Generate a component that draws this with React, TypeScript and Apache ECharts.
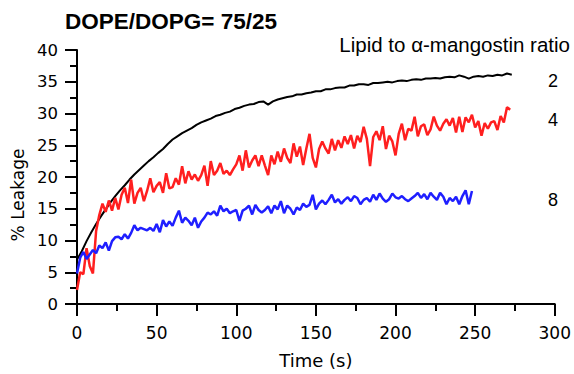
import React, { useEffect, useRef } from "react";
import * as echarts from "echarts";

const titleText = "DOPE/DOPG= 75/25";
const legendTitle = "Lipid to \u03b1-mangostin ratio";
const ratioLabels = ["2", "4", "8"];
const xTicks = [0, 50, 100, 150, 200, 250, 300];
const yTicks = [0, 5, 10, 15, 20, 25, 30, 35, 40];

// sampling interval (s) of each trace
const blackStep = 3;
const redStep = 2;
const blueStep = 2;

// ratio 2 (black)
const black = [
  7.0, 8.3, 9.9, 11.3, 12.6, 13.8, 14.9, 16.0, 17.0, 17.9, 18.7, 19.6, 20.4, 21.1, 21.8, 22.5,
  23.1, 23.8, 24.4, 25.2, 25.9, 26.4, 26.9, 27.3, 27.7, 28.2, 28.6, 28.9, 29.2, 29.6, 29.8, 30.1,
  30.3, 30.7, 30.9, 31.2, 31.4, 31.5, 31.8, 31.9, 31.4, 31.9, 32.2, 32.4, 32.6, 32.7, 33.0, 33.0,
  33.2, 33.3, 33.5, 33.5, 33.8, 33.8, 34.0, 34.1, 34.1, 34.4, 34.4, 34.6, 34.6, 34.5, 34.8, 34.8,
  34.9, 35.0, 34.9, 35.1, 35.2, 35.1, 35.3, 35.4, 35.3, 35.5, 35.5, 35.6, 35.5, 35.7, 35.8, 35.7,
  36.0, 35.8, 35.5, 35.8, 35.9, 35.8, 36.0, 35.9, 36.1, 36.0, 36.3, 36.1,
];

// ratio 4 (red)
const red = [
  2.2, 5.0, 4.7, 8.8, 6.0, 4.8, 11.5, 14.0, 15.8, 14.5, 16.3, 14.7, 16.7, 14.9, 17.2, 18.3,
  15.9, 19.6, 15.8, 17.5, 18.3, 16.2, 17.8, 19.8, 17.6, 18.6, 19.2, 17.5, 20.6, 18.2, 18.4, 19.8,
  18.8, 21.7, 19.0, 20.9, 19.6, 20.4, 19.4, 20.3, 21.8, 18.6, 22.5, 20.3, 21.0, 22.2, 20.5, 21.0,
  20.3, 21.2, 22.0, 23.4, 21.0, 24.2, 21.5, 22.6, 23.4, 21.7, 23.4, 21.8, 20.3, 23.4, 22.0, 24.0,
  22.4, 24.5, 23.0, 22.2, 25.3, 23.2, 24.8, 21.9, 24.5, 26.8, 23.0, 21.5, 24.4, 25.6, 24.5, 23.7,
  26.0, 24.2, 25.8, 24.6, 26.4, 25.2, 26.6, 24.5, 26.5, 25.5, 27.9, 26.0, 21.7, 26.3, 27.2, 25.8,
  28.0, 24.4, 26.5, 25.6, 23.4, 26.8, 28.4, 25.8, 27.6, 27.3, 29.5, 26.4, 28.0, 28.3, 26.6, 27.5,
  29.5, 28.1, 27.3, 28.4, 29.1, 28.1, 29.3, 27.0, 29.5, 27.1, 29.4, 28.6, 29.8, 27.8, 28.8, 26.5,
  28.5, 27.6, 28.6, 28.8, 27.4, 29.6, 28.6, 31.0, 30.6,
];

// ratio 8 (blue)
const blue = [
  4.8, 7.3, 8.2, 7.1, 7.8, 8.5, 8.0, 9.2, 8.8, 9.7, 8.4, 9.9, 10.5, 10.6, 10.2, 11.0,
  10.3, 11.2, 12.4, 11.6, 12.0, 11.8, 11.6, 12.0, 11.5, 12.6, 11.3, 13.2, 12.2, 13.0, 12.3, 13.6,
  14.7, 12.8, 13.6, 13.1, 12.4, 13.6, 12.0, 13.0, 13.6, 14.4, 14.1, 14.6, 13.9, 15.5, 14.6, 15.0,
  14.3, 14.6, 14.8, 13.1, 14.7, 15.0, 15.5, 14.1, 15.6, 14.8, 14.4, 14.8, 15.4, 14.3, 15.5, 14.9,
  16.2, 14.3, 15.5, 15.0, 14.1, 15.2, 14.8, 15.8, 15.3, 15.6, 17.2, 14.9, 15.8, 16.3, 15.7, 16.4,
  17.2, 16.0, 16.5, 15.8, 16.4, 16.8, 16.2, 17.0, 16.7, 15.7, 16.4, 16.7, 16.1, 17.2, 16.4, 17.4,
  16.6, 16.1, 16.5, 17.4, 16.8, 16.6, 17.0, 16.5, 16.2, 16.6, 17.0, 17.5, 16.7, 17.3, 16.5, 17.5,
  16.9, 16.4, 17.5, 16.9, 15.7, 16.7, 16.2, 16.9, 15.7, 17.0, 17.9, 15.7, 17.8,
];

const toPairs = (vals: number[], step: number) => vals.map((v, i) => [i * step, v]);

export default function App() {
  const ref = useRef<HTMLDivElement>(null);
  useEffect(() => {
    if (!ref.current) return;
    const chart = echarts.init(ref.current, undefined, { renderer: "svg" });
    const axisFont = { fontFamily: "DejaVu Sans", fontSize: 17, color: "#000" };
    chart.setOption({
      animation: false,
      backgroundColor: "#fff",
      grid: { left: 77, right: 17, top: 50, bottom: 66, containLabel: false },
      xAxis: {
        type: "value",
        min: xTicks[0],
        max: xTicks[xTicks.length - 1],
        interval: 50,
        name: "Time (s)",
        nameLocation: "middle",
        nameGap: 47,
        nameTextStyle: { ...axisFont, fontSize: 18 },
        axisLine: { show: true, onZero: false, lineStyle: { color: "#000", width: 2 } },
        axisTick: { show: true, length: 12, lineStyle: { color: "#000", width: 2 } },
        minorTick: { show: true, splitNumber: 2, length: 7, lineStyle: { color: "#000", width: 2 } },
        axisLabel: { ...axisFont, margin: 20 },
        splitLine: { show: false },
      },
      yAxis: {
        type: "value",
        min: yTicks[0],
        max: yTicks[yTicks.length - 1],
        interval: 5,
        axisLine: { show: true, onZero: false, lineStyle: { color: "#000", width: 2 } },
        axisTick: { show: true, length: 12, lineStyle: { color: "#000", width: 2 } },
        minorTick: { show: true, splitNumber: 2, length: 7, lineStyle: { color: "#000", width: 2 } },
        axisLabel: { ...axisFont, fontSize: 16.5, margin: 19 },
        splitLine: { show: false },
      },
      series: [
        {
          name: ratioLabels[0],
          type: "line",
          data: toPairs(black, blackStep),
          showSymbol: false,
          lineStyle: { color: "#000", width: 2 },
          itemStyle: { color: "#000" },
        },
        {
          name: ratioLabels[1],
          type: "line",
          data: toPairs(red, redStep),
          showSymbol: false,
          lineStyle: { color: "#ff1f1f", width: 2.5 },
          itemStyle: { color: "#ff1f1f" },
        },
        {
          name: ratioLabels[2],
          type: "line",
          data: toPairs(blue, blueStep),
          showSymbol: false,
          lineStyle: { color: "#1f1fff", width: 2.5 },
          itemStyle: { color: "#1f1fff" },
        },
      ],
      graphic: [
        {
          type: "text",
          left: 65,
          top: 10,
          style: {
            text: titleText,
            font: "bold 22.5px 'Liberation Sans', Arial, sans-serif",
            fill: "#000",
          },
        },
        {
          type: "text",
          x: 570,
          y: 44,
          style: {
            text: legendTitle,
            font: "20.5px 'Liberation Sans', Arial, sans-serif",
            fill: "#000",
            align: "right",
            verticalAlign: "middle",
          },
        },
        {
          type: "text",
          x: 553,
          y: 81,
          style: { text: ratioLabels[0], font: "18px 'Liberation Sans', Arial, sans-serif", fill: "#000", align: "center", verticalAlign: "middle" },
        },
        {
          type: "text",
          x: 553,
          y: 120,
          style: { text: ratioLabels[1], font: "18px 'Liberation Sans', Arial, sans-serif", fill: "#000", align: "center", verticalAlign: "middle" },
        },
        {
          type: "text",
          x: 553,
          y: 200,
          style: { text: ratioLabels[2], font: "18px 'Liberation Sans', Arial, sans-serif", fill: "#000", align: "center", verticalAlign: "middle" },
        },
        {
          type: "text",
          x: 18,
          y: 195,
          rotation: Math.PI / 2,
          style: {
            text: "% Leakage",
            font: "17px 'DejaVu Sans', sans-serif",
            fill: "#000",
            align: "center",
            verticalAlign: "middle",
          },
        },
      ],
    });
    return () => chart.dispose();
  }, []);
  return <div ref={ref} style={{ width: 574, height: 374, position: "fixed", left: 0, top: 0 }} />;
}
